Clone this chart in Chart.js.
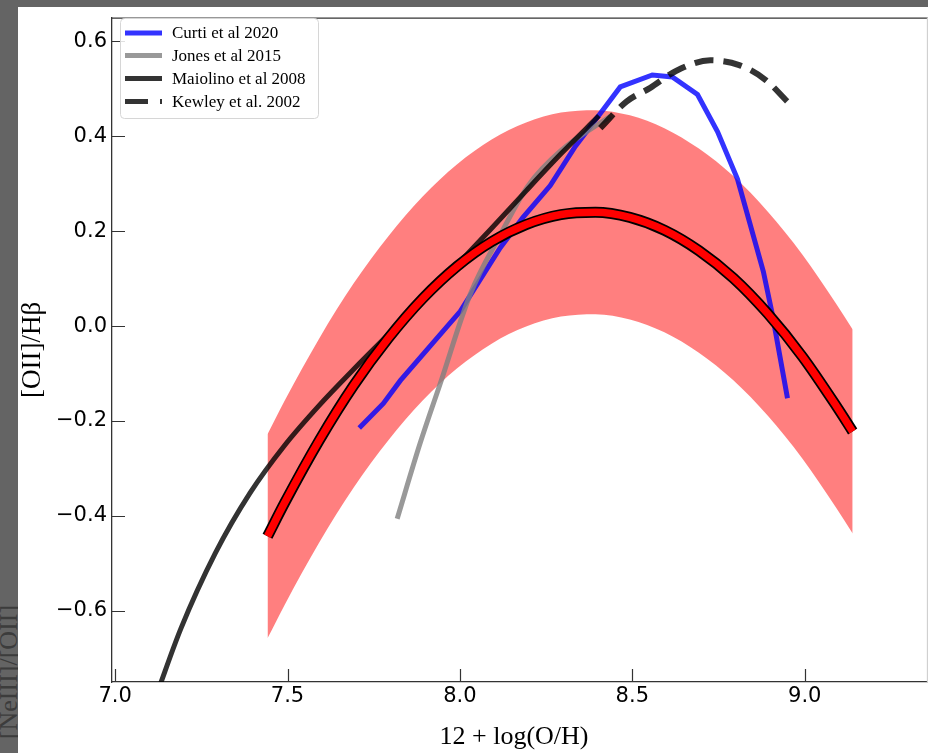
<!DOCTYPE html>
<html>
<head>
<meta charset="utf-8">
<script src="https://cdn.jsdelivr.net/npm/chart.js@4.4.1/dist/chart.umd.min.js"></script>
<style>
  html, body { margin: 0; padding: 0; background: #646464; width: 928px; height: 753px; overflow: hidden; }
  #side { position: absolute; left: 9px; top: 672px; transform: translate(-50%, -50%) rotate(-90deg);
          font: 26px "Liberation Serif", serif; color: #3c3c3c; white-space: nowrap; line-height: 1; }
  #panel { position: absolute; left: 18px; top: 7px; width: 910px; height: 746px; background: #ffffff; }
  #wrap { position: absolute; left: 0; top: 0; width: 928px; height: 753px; }
</style>
</head>
<body>
<div id="side">[NeIII]/[OII]</div>
<div id="panel"></div>
<div id="wrap"><canvas id="c" width="928" height="753"></canvas></div>
<script>
// Axis ticks
const xTicks = [7.0, 7.5, 8.0, 8.5, 9.0];
const yTicks = [-0.6, -0.4, -0.2, 0.0, 0.2, 0.4, 0.6];

// Fitted relation (red) and its scatter band
const fitX  = [7.442, 7.492, 7.592, 7.692, 7.792, 7.892, 7.992, 8.092, 8.192, 8.293, 8.393, 8.493, 8.593, 8.693, 8.793, 8.893, 8.993, 9.093, 9.139];
const fitY  = [-0.443, -0.372, -0.241, -0.125, -0.026, 0.058, 0.126, 0.178, 0.214, 0.235, 0.240, 0.229, 0.202, 0.159, 0.101, 0.026, -0.064, -0.170, -0.222];
const bandHi = [-0.228, -0.157, -0.026, 0.090, 0.189, 0.273, 0.341, 0.393, 0.429, 0.450, 0.455, 0.444, 0.417, 0.374, 0.316, 0.241, 0.151, 0.045, -0.007];
const bandLo = [-0.658, -0.587, -0.456, -0.340, -0.241, -0.157, -0.089, -0.037, -0.001, 0.020, 0.025, 0.014, -0.013, -0.056, -0.114, -0.189, -0.279, -0.385, -0.437];

// Curti et al 2020
const curtiX = [7.708, 7.778, 7.827, 8.001, 8.117, 8.183, 8.262, 8.335, 8.407, 8.465, 8.558, 8.616, 8.689, 8.747, 8.805, 8.880, 8.906, 8.950];
const curtiY = [-0.215, -0.163, -0.115, 0.031, 0.165, 0.229, 0.296, 0.379, 0.448, 0.504, 0.529, 0.525, 0.488, 0.410, 0.310, 0.115, 0.025, -0.152];

// Jones et al 2015
const jonesX = [7.818, 7.885, 7.943, 8.030, 8.117, 8.198, 8.292, 8.436];
const jonesY = [-0.406, -0.246, -0.121, 0.067, 0.192, 0.296, 0.369, 0.442];

// Maiolino et al 2008
const maiolinoX = [7.121, 7.191, 7.291, 7.391, 7.492, 7.592, 7.692, 7.792, 7.892, 7.992, 8.092, 8.192, 8.293, 8.403];
const maiolinoY = [-0.775, -0.637, -0.478, -0.352, -0.251, -0.167, -0.091, -0.018, 0.054, 0.129, 0.206, 0.285, 0.363, 0.443];

// Kewley et al. 2002
const kewleyX = [8.407, 8.483, 8.552, 8.628, 8.726, 8.810, 8.886, 8.950];
const kewleyY = [0.417, 0.473, 0.502, 0.538, 0.560, 0.550, 0.519, 0.473];

const pts = (xs, ys) => xs.map((x, i) => ({ x: x, y: ys[i] }));

const line = (label, xs, ys, color, width, extra) => Object.assign({
  label: label, data: pts(xs, ys), borderColor: color, borderWidth: width,
  pointRadius: 0, fill: false, cubicInterpolationMode: 'monotone', borderCapStyle: 'butt'
}, extra || {});

const datasets = [
  line('band-hi', fitX, bandHi, 'rgba(0,0,0,0)', 0, { fill: '+1', backgroundColor: 'rgba(255,0,0,0.5)', order: 10 }),
  line('band-lo', fitX, bandLo, 'rgba(0,0,0,0)', 0, { order: 10 }),
  line('Curti et al 2020', curtiX, curtiY, 'rgba(0,0,255,0.8)', 5, { cubicInterpolationMode: 'default', tension: 0, order: 6 }),
  line('Jones et al 2015', jonesX, jonesY, 'rgba(128,128,128,0.8)', 5, { order: 5 }),
  line('Maiolino et al 2008', maiolinoX, maiolinoY, 'rgba(0,0,0,0.8)', 5, { order: 4, clip: 0 }),
  line('Kewley et al. 2002', kewleyX, kewleyY, 'rgba(0,0,0,0.8)', 6, { borderDash: [19, 10], order: 3 }),
  line('fit-edge', fitX, fitY, '#000000', 11, { order: 2 }),
  line('fit', fitX, fitY, '#ff0000', 7.5, { order: 1 })
];

const legendRows = ['Curti et al 2020', 'Jones et al 2015', 'Maiolino et al 2008', 'Kewley et al. 2002'];

const frame = {
  id: 'frame',
  afterDraw(chart) {
    const ctx = chart.ctx;
    const a = chart.chartArea;
    const xs = chart.scales.x, ys = chart.scales.y;
    ctx.save();
    // top and right spines
    ctx.strokeStyle = '#333333';
    ctx.lineWidth = 1.3;
    ctx.beginPath();
    ctx.moveTo(a.left, a.top + 0.5);
    ctx.lineTo(a.right, a.top + 0.5);
    ctx.stroke();
    ctx.strokeStyle = '#d0d0d0';
    ctx.beginPath();
    ctx.moveTo(a.right - 0.5, a.top);
    ctx.lineTo(a.right - 0.5, a.bottom);
    ctx.stroke();
    // inward tick marks
    ctx.strokeStyle = '#333333';
    ctx.lineWidth = 1.2;
    ctx.beginPath();
    xTicks.forEach(v => {
      const px = Math.round(xs.getPixelForValue(v)) + 0.5;
      ctx.moveTo(px, a.bottom);
      ctx.lineTo(px, a.bottom - 13);
    });
    yTicks.forEach(v => {
      const py = Math.round(ys.getPixelForValue(v)) + 0.5;
      ctx.moveTo(a.left, py);
      ctx.lineTo(a.left + 13, py);
    });
    ctx.stroke();

    // x-axis title
    ctx.fillStyle = '#000000';
    ctx.font = '26px "Liberation Serif", serif';
    ctx.textAlign = 'center';
    ctx.textBaseline = 'middle';
    ctx.fillText('12 + log(O/H)', 514, 737);

    // legend
    const bx = 120.5, by = 18.5, bw = 198, bh = 100, r = 4;
    ctx.beginPath();
    ctx.moveTo(bx + r, by);
    ctx.arcTo(bx + bw, by, bx + bw, by + bh, r);
    ctx.arcTo(bx + bw, by + bh, bx, by + bh, r);
    ctx.arcTo(bx, by + bh, bx, by, r);
    ctx.arcTo(bx, by, bx + bw, by, r);
    ctx.closePath();
    ctx.fillStyle = 'rgba(255,255,255,0.85)';
    ctx.fill();
    ctx.strokeStyle = '#d6d6d6';
    ctx.lineWidth = 1;
    ctx.stroke();

    const rowY = [33, 55.5, 78.5, 101.5];
    legendRows.forEach((name, i) => {
      const ds = chart.data.datasets.find(d => d.label === name);
      const y = rowY[i];
      ctx.beginPath();
      ctx.setLineDash(ds.borderDash ? [23, 12] : []);
      ctx.strokeStyle = ds.borderColor;
      ctx.lineWidth = 5;
      ctx.lineCap = 'butt';
      ctx.moveTo(125, y);
      ctx.lineTo(162, y);
      ctx.stroke();
      ctx.setLineDash([]);
      ctx.fillStyle = '#000000';
      ctx.font = '17px "Liberation Serif", serif';
      ctx.textBaseline = 'middle';
      ctx.textAlign = 'left';
      ctx.fillText(name, 172, y + 1);
    });
    ctx.restore();
  }
};

new Chart(document.getElementById('c'), {
  type: 'line',
  data: { datasets: datasets },
  options: {
    responsive: false,
    animation: false,
    events: [],
    layout: { padding: { top: 10, left: 0, right: 0, bottom: 0 } },
    plugins: { legend: { display: false }, tooltip: { enabled: false }, filler: { propagate: false } },
    scales: {
      x: {
        type: 'linear', min: 6.991, max: 9.3575,
        afterBuildTicks: s => { s.ticks = xTicks.map(v => ({ value: v })); },
        afterFit: s => { s.height = 71; },
        ticks: { callback: v => v.toFixed(1), font: { family: 'DejaVu Sans', size: 21 }, color: '#000', padding: 2, maxRotation: 0, autoSkip: false },
        grid: { display: false, drawTicks: false },
        border: { display: true, color: '#333333', width: 1.3 }
      },
      y: {
        type: 'linear', min: -0.75, max: 0.65,
        afterBuildTicks: s => { s.ticks = yTicks.map(v => ({ value: v })); },
        afterFit: s => { s.width = 112; },
        ticks: { callback: v => (v < 0 ? '\u2212' : '') + Math.abs(v).toFixed(1), font: { family: 'DejaVu Sans', size: 21 }, color: '#000', padding: 5, autoSkip: false },
        grid: { display: false, drawTicks: false },
        border: { display: true, color: '#333333', width: 1.3 },
        title: { display: true, text: '[OII]/H\u03B2', font: { family: 'Liberation Serif', size: 27 }, color: '#000', padding: { top: 17, bottom: 0 } }
      }
    }
  },
  plugins: [frame]
});
</script>
</body>
</html>
